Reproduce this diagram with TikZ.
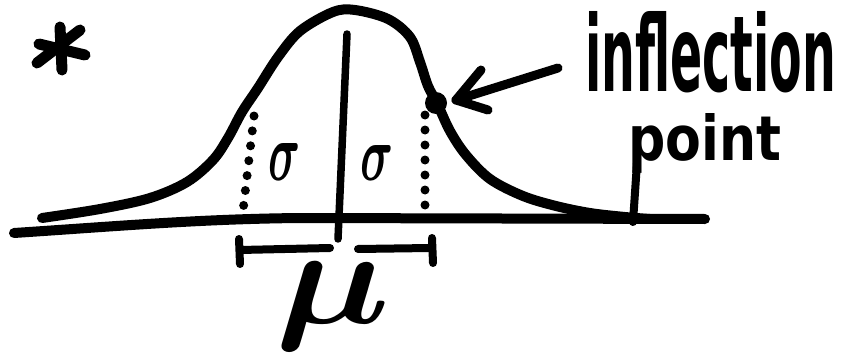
\documentclass[tikz,border=0pt]{standalone}
\usepackage{fontspec}
\usepackage{graphicx}
\usepackage{bm}
\newfontfamily\handfont{DejaVu Sans}
\tikzset{
  ink/.style={draw=black, line cap=round, line join=round},
  curvestroke/.style={ink, line width=10pt},
  axisstroke/.style={ink, line width=10pt},
  meanstroke/.style={ink, line width=7.5pt},
  dotstroke/.style={ink, line width=9pt, dash pattern=on 0pt off 15pt},
  brstroke/.style={ink, line width=8pt},
  label/.style={inner sep=0pt, outer sep=0pt},
}
\begin{document}
\begin{tikzpicture}[x=1pt, y=-1pt]
\useasboundingbox (0,0) rectangle (846,353);
% asterisk
\draw[ink, line width=11pt] (60,27) -- (62,70);
\draw[ink, line width=11pt] (39,44) -- (85,55);
\draw[ink, line width=11pt] (37,63) -- (80,30);
% baseline
\draw[axisstroke] (14,233) .. controls (120,226) and (200,219) .. (300,218) -- (705,219);
% bell curve
\draw[curvestroke] plot[smooth, tension=0.55] coordinates {
 (42,218) (100,209) (150,198) (187,182) (213,160) (228,138) (242,112)
 (258,88) (278,57) (300,31) (333,12) (355,10) (388,19) (410,37) (420,62)
 (428,86) (437,103) (450,131) (466,155) (490,179) (523,196) (556,206)
 (590,213) (625,217) (650,219)};
% mean line
\draw[meanstroke] (347,34) -- (338,239);
% dotted sigma lines
\draw[dotstroke] (254,116) -- (243,211);
\draw[dotstroke] (425,115) -- (425,211);
% sigma labels
\node[label] (sigL) at (285,162) {\resizebox{32pt}{37pt}{$\bm{\sigma}$}};
\node[label] (sigR) at (377,163) {\resizebox{33pt}{35pt}{$\bm{\sigma}$}};
% bracket
\draw[brstroke] (239,239) -- (240,264);
\draw[brstroke] (240,250) -- (330,248);
\draw[brstroke] (358,249) -- (430,248);
\draw[brstroke] (432,238) -- (433,263);
% mu
\node[label] (mu) at (333,306) {\resizebox*{115pt}{88pt}{$\bm{\mu}$}};
% inflection point marker
\node[circle, fill=black, minimum size=22pt, inner sep=0pt] (ip) at (436,103) {};
\coordinate (tail) at (558,68);
\coordinate (tip) at (456,100);
\coordinate (barbA) at (481,70);
\coordinate (barbB) at (488,110);
\draw[ink, line width=9pt] (tail) -- (tip);
\draw[ink, line width=9pt] (barbA) -- (tip) -- (barbB);
% text
\node[label, anchor=base west] (infl) at (585,92) {\resizebox{251pt}{80pt}{\handfont\bfseries inflection}};
\node[label, anchor=base west] (pt) at (628,160) {\resizebox{153pt}{47pt}{\handfont\bfseries point}};
\coordinate (pstemtop) at (637,163);
\coordinate (pstembot) at (633,222);
\draw[ink, line width=8pt] (pstemtop) -- (pstembot);
\end{tikzpicture}
\end{document}
